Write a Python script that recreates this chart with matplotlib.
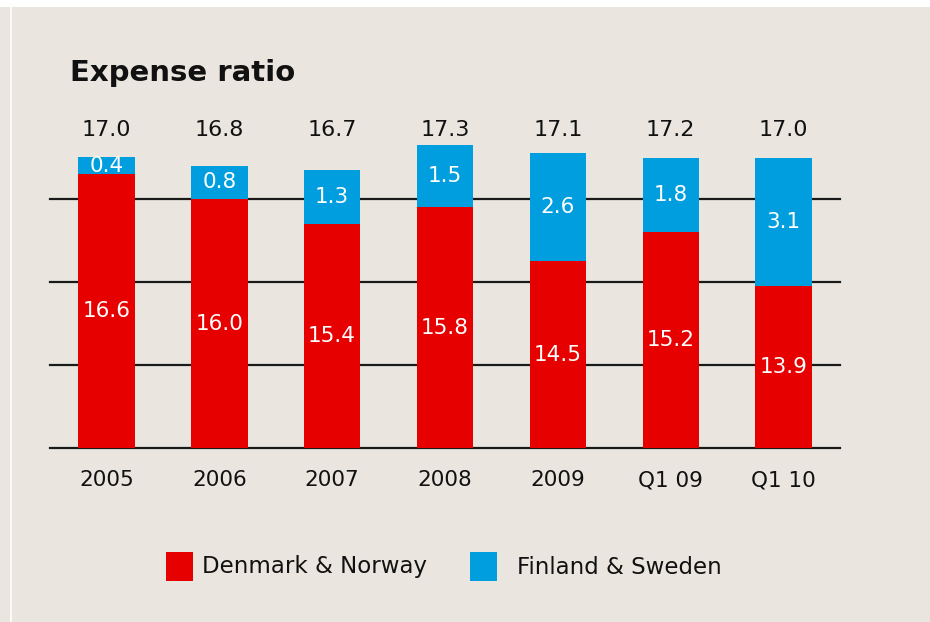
import matplotlib
matplotlib.use("Agg")
import matplotlib.pyplot as plt
import matplotlib.transforms as mtransforms
from matplotlib.patches import Rectangle
from matplotlib.lines import Line2D

categories = ["2005", "2006", "2007", "2008", "2009", "Q1 09", "Q1 10"]
denmark_norway = [16.6, 16.0, 15.4, 15.8, 14.5, 15.2, 13.9]
finland_sweden = [0.4, 0.8, 1.3, 1.5, 2.6, 1.8, 3.1]
totals = [17.0, 16.8, 16.7, 17.3, 17.1, 17.2, 17.0]
series_names = ["Denmark & Norway", "Finland & Sweden"]
gridlines = [10, 12, 14, 16]

RED = "#E60000"
BLUE = "#009EDF"
BG = "#EAE6DF"
W, H = 930, 622

fig = plt.figure(figsize=(W / 100, H / 100), dpi=100, facecolor=BG)

# white strip at the top and thin white line on the left
fig.add_artist(Rectangle((0, 1 - 7 / H), 1, 7 / H, transform=fig.transFigure,
                         facecolor="white", edgecolor="none"))
fig.add_artist(Line2D([11 / W, 11 / W], [0, 1], transform=fig.transFigure,
                      color="white", lw=1.2))

ax = fig.add_axes([50 / W, (H - 448) / H, 790 / W, 332 / H])
ax.set_facecolor(BG)
ax.set_xlim(-0.5, len(categories) - 0.5)
ax.set_ylim(10, 18)
for s in ax.spines.values():
    s.set_visible(False)

for g in gridlines:
    ax.axhline(g, color="#1a1a1a", lw=1.6, zorder=1, clip_on=False)

x = list(range(len(categories)))
base = 10
red_h = [v - base for v in denmark_norway]
ax.bar(x, red_h, bottom=base, width=0.5, color=RED, zorder=2)
ax.bar(x, finland_sweden, bottom=denmark_norway, width=0.5, color=BLUE, zorder=2)

for i in x:
    ax.text(i, (base + denmark_norway[i]) / 2, f"{denmark_norway[i]:.1f}",
            ha="center", va="center", color="white", fontsize=15.5, zorder=3)
    ax.text(i, denmark_norway[i] + finland_sweden[i] / 2, f"{finland_sweden[i]:.1f}",
            ha="center", va="center", color="white", fontsize=15.5, zorder=3)

trans = mtransforms.blended_transform_factory(ax.transData, ax.transAxes)
for i in x:
    ax.text(i, (448 - 130) / 332, f"{totals[i]:.1f}", transform=trans,
            ha="center", va="center", color="#111111", fontsize=16)

ax.set_yticks([])
ax.set_xticks(x)
ax.set_xticklabels(categories, fontsize=15.5, color="#111111")
ax.tick_params(axis="x", length=0, pad=16)

fig.text(70 / W, 1 - 73 / H, "Expense ratio", fontsize=21, fontweight="bold",
         ha="left", va="center", color="#111111")

# legend
for (x0, tx), name, col in zip([(166, 202), (470, 517)], series_names, [RED, BLUE]):
    fig.add_artist(Rectangle((x0 / W, (H - 581) / H), 27 / W, 29 / H,
                             transform=fig.transFigure, facecolor=col, edgecolor="none"))
    fig.text(tx / W, 1 - 567 / H, name, fontsize=16.5, ha="left", va="center", color="#111111")

fig.savefig("out.png", dpi=100, facecolor=BG)
